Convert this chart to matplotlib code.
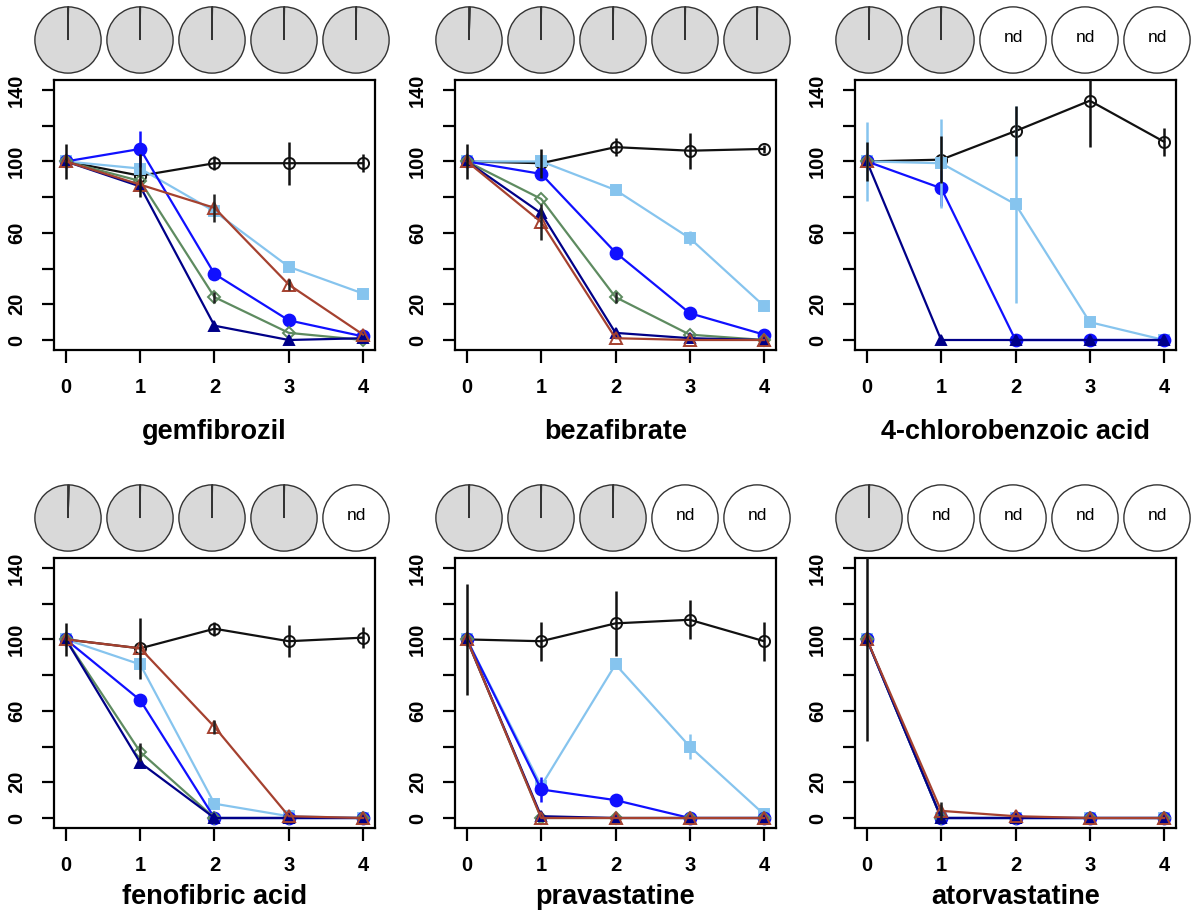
import numpy as np
import matplotlib
matplotlib.use('Agg')
import matplotlib.pyplot as plt
from matplotlib.patches import Circle

plt.rcParams['font.family'] = ['Liberation Sans', 'DejaVu Sans']

nan = np.nan

drugs = ['gemfibrozil', 'bezafibrate', '4-chlorobenzoic acid',
         'fenofibric acid', 'pravastatine', 'atorvastatine']
days = [0, 1, 2, 3, 4]
xtick_labels = ['0', '1', '2', '3', '4']
yticks = [0, 20, 40, 60, 80, 100, 120, 140]
ytick_labels = ['0', '20', '', '60', '', '100', '', '140']

# control (black open circles)
control_mean = [
    [100, 92, 99, 99, 99],
    [100, 99, 108, 106, 107],
    [100, 101, 117, 134, 111],
    [100, 95, 106, 99, 101],
    [100, 99, 109, 111, 99],
    [100, nan, nan, nan, nan],
]
control_err = [
    [10, 12, 4, 12, 5],
    [10, 8, 5, 10, 2],
    [11, 13, 14, 26, 8],
    [9, 17, 4, 9, 6],
    [31, 11, 18, 11, 11],
    [57, nan, nan, nan, nan],
]
# light blue filled squares
lightblue_mean = [
    [100, 96, 72, 41, 26],
    [100, 100, 84, 57, 19],
    [100, 99, 76, 10, 0],
    [100, 86, 8, 1, 0],
    [100, 18, 86, 40, 2],
    [100, 0, 0, 0, 0],
]
lightblue_err = [
    [0, 0, 0, 2, 0],
    [0, 0, 2, 4, 0],
    [22, 25, 55, 0, 0],
    [0, 0, 0, 0, 0],
    [0, 0, 0, 7, 0],
    [0, 0, 0, 0, 0],
]
# blue filled circles
blue_mean = [
    [100, 107, 37, 11, 2],
    [100, 93, 49, 15, 3],
    [100, 85, 0, 0, 0],
    [100, 66, 0, 0, 0],
    [100, 16, 10, 0, 0],
    [100, 0, 0, 0, 0],
]
blue_err = [
    [0, 10, 3, 1, 0],
    [0, 0, 0, 0, 0],
    [0, 10, 0, 0, 0],
    [0, 0, 0, 0, 0],
    [0, 7, 0, 0, 0],
    [0, 0, 0, 0, 0],
]
# green open diamonds
green_mean = [
    [100, 89, 24, 4, 0],
    [100, 79, 24, 3, 0],
    [100, nan, nan, nan, nan],
    [100, 37, 0, 0, 0],
    [100, 0, 0, 0, 0],
    [100, 0, 0, 0, 0],
]
green_err = [
    [0, 0, 3, 0, 0],
    [0, 0, 3, 0, 0],
    [0, 0, 0, 0, 0],
    [0, 5, 0, 0, 0],
    [0, 0, 0, 0, 0],
    [0, 0, 0, 0, 0],
]
# navy filled triangles
navy_mean = [
    [100, 86, 8, 0, 1],
    [100, 71, 4, 1, 0],
    [100, 0, 0, 0, 0],
    [100, 31, 0, 0, 0],
    [100, 1, 0, 0, 0],
    [100, 0, 0, 0, 0],
]
navy_err = [[0, 0, 0, 0, 0] for _ in range(6)]
# brown open triangles
brown_mean = [
    [100, 87, 74, 31, 3],
    [100, 66, 1, 0, 0],
    [100, nan, nan, nan, nan],
    [100, 95, 51, 1, 0],
    [100, 0, 0, 0, 0],
    [100, 4, 1, 0, 0],
]
brown_err = [
    [0, 0, 8, 3, 0],
    [0, 10, 0, 0, 0],
    [0, 0, 0, 0, 0],
    [0, 0, 4, 0, 0],
    [0, 0, 0, 0, 0],
    [0, 5, 0, 0, 0],
]

# pie shares (percent of grey slice); None = not detected
pie_share = [
    [99.8, 99.8, 99.8, 99.8, 99.8],
    [99.5, 99.8, 99.8, 99.8, 99.8],
    [99.8, 99.8, None, None, None],
    [99.5, 99.8, 99.8, 99.8, None],
    [99.8, 99.8, 99.8, None, None],
    [99.8, None, None, None, None],
]

# series styles: (means, errs, colour, marker, filled, err colour, size)
series = [
    (control_mean, control_err, '#111111', 'o', False, '#111111', 8),
    (lightblue_mean, lightblue_err, '#86C4EE', 's', True, '#86C4EE', 7),
    (blue_mean, blue_err, '#1010FF', 'o', True, '#1010FF', 8.5),
    (green_mean, green_err, '#5E8B60', 'D', False, '#222222', 6.5),
    (navy_mean, navy_err, '#000088', '^', True, '#000088', 7.5),
    (brown_mean, brown_err, '#A5412F', '^', False, '#222222', 8),
]

W, H = 1198, 924
fig = plt.figure(figsize=(W / 100, H / 100), dpi=100)

col_left = [54, 455, 855]
row_top = [80, 558]
title_y = [432, 897]
box_w, box_h = 321, 270

for k, drug in enumerate(drugs):
    r, c = divmod(k, 3)
    L, T = col_left[c], row_top[r]
    ax = fig.add_axes([L / W, 1 - (T + box_h) / H, box_w / W, box_h / H])
    for z, (means, errs, col, mk, filled, ecol, ms) in enumerate(series):
        ax.plot(days, means[k], color=col, marker=mk, ms=ms,
                mfc=col if filled else 'none', mec=col, mew=1.4, lw=1.6,
                zorder=2 + z * 0.1)
        ax.errorbar(days, means[k], yerr=errs[k], fmt='none', ecolor=ecol,
                    elinewidth=1.8, capsize=0, zorder=3 - z * 0.05)
    ax.set_xlim(-0.16, 4.16)
    ax.set_ylim(-5.6, 145.6)
    ax.set_xticks(days)
    ax.set_xticklabels(xtick_labels, fontsize=14.5, fontweight='bold')
    ax.set_yticks(yticks)
    ax.set_yticklabels(ytick_labels, fontsize=14.5, fontweight='bold',
                       rotation=90, va='center')
    ax.tick_params(direction='out', length=9, width=1.6, pad=11)
    for sp in ax.spines.values():
        sp.set_linewidth(1.6)
    fig.text((L + box_w / 2) / W, 1 - title_y[r] / H, drug, ha='center',
             va='center', fontsize=19.5, fontweight='bold')

    # pies above the panel
    pax = fig.add_axes([(L - 22) / W, 1 - (T - 40 + 36) / H, 360 / W, 72 / H])
    for i, s in enumerate(pie_share[k]):
        if s is None:
            pax.add_patch(Circle((i, 0), 0.46, facecolor='white',
                                 edgecolor='#333333', lw=1.0))
            pax.text(i, 0.03, 'nd', ha='center', va='center', fontsize=12.5)
        else:
            pax.pie([s, 100 - s], colors=['#D9D9D9', '#D9D9D9'], startangle=90,
                    counterclock=True, radius=0.46, center=(i, 0),
                    wedgeprops=dict(edgecolor='#333333', linewidth=1.0))
    pax.set_xlim(-0.5, 4.5)
    pax.set_ylim(-0.5, 0.5)
    pax.set_aspect('equal')
    pax.axis('off')

fig.savefig('out.png', dpi=100)
